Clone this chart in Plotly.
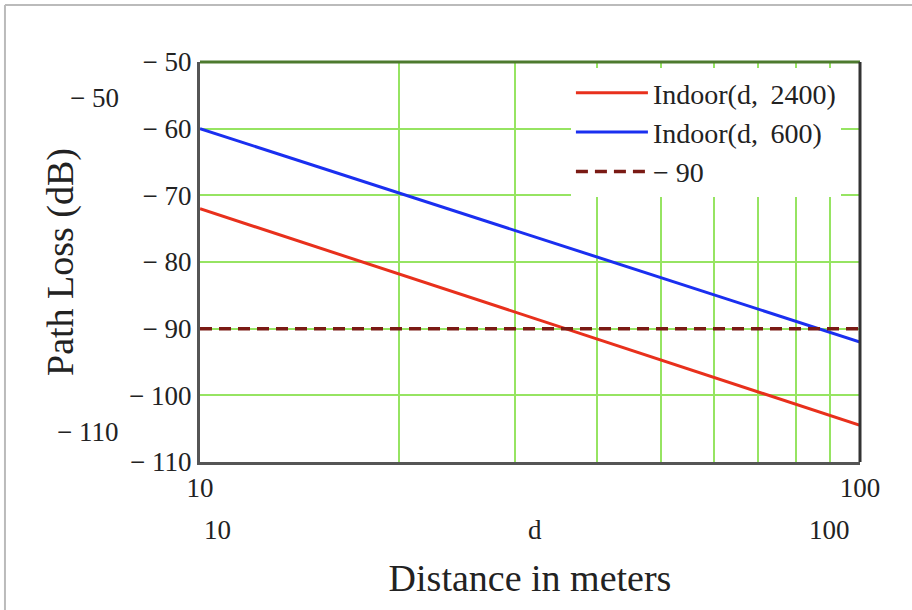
import plotly.graph_objects as go

d = [10, 20, 30, 40, 50, 60, 70, 80, 90, 100]
indoor_2400 = [-72.0, -81.8, -87.5, -91.6, -94.7, -97.3, -99.5, -101.4, -103.0, -104.5]
indoor_600 = [-60.0, -69.6, -75.3, -79.3, -82.4, -84.9, -87.0, -88.9, -90.5, -92.0]
threshold = [-90.0] * len(d)

y_ticks = [-50, -60, -70, -80, -90, -100, -110]
y_ticktext = ["\u2212 50", "\u2212 60", "\u2212 70", "\u2212 80", "\u2212 90", "\u2212 100", "\u2212 110"]
x_ticks = [10, 20, 30, 40, 50, 60, 70, 80, 90, 100]
x_ticktext = ["10", "", "", "", "", "", "", "", "", "100"]

serif = "Liberation Serif, Times New Roman, serif"
grid = "#96e462"
txt_col = "#222"

fig = go.Figure()
fig.add_trace(go.Scatter(x=d, y=indoor_2400, mode="lines", name="Indoor(d,\u2009 2400)",
                         line=dict(color="#e8301c", width=3)))
fig.add_trace(go.Scatter(x=d, y=indoor_600, mode="lines", name="Indoor(d,\u2009 600)",
                         line=dict(color="#1a2ff0", width=3)))
fig.add_trace(go.Scatter(x=d, y=threshold, mode="lines", name="\u2212 90",
                         line=dict(color="#7a1a14", width=3.5, dash="12px,7px")))

fig.update_layout(
    width=912, height=610,
    margin=dict(l=200, r=52, t=62, b=148),
    paper_bgcolor="white", plot_bgcolor="white",
    showlegend=True,
    legend=dict(x=0.562, y=0.985, xanchor="left", yanchor="top",
                bgcolor="white", borderwidth=0,
                font=dict(family=serif, size=28, color=txt_col),
                tracegroupgap=0, itemwidth=72),
    font=dict(family=serif, color=txt_col),
    xaxis=dict(type="log", range=[1, 2], tickvals=x_ticks, ticktext=x_ticktext,
               showgrid=True, gridcolor=grid, gridwidth=2,
               showline=True, linecolor="#555", linewidth=3,
               ticks="", tickfont=dict(family=serif, size=27, color=txt_col),
               zeroline=False, automargin=False,
               title=dict(text="Distance in meters", font=dict(family=serif, size=38, color=txt_col),
                          standoff=62)),
    yaxis=dict(range=[-110, -50], tickvals=y_ticks, ticktext=y_ticktext,
               showgrid=True, gridcolor=grid, gridwidth=2,
               showline=True, linecolor="#555", linewidth=3,
               ticks="", tickfont=dict(family=serif, size=27, color=txt_col),
               zeroline=False, automargin=False,
               title=dict(text="Path Loss (dB)", font=dict(family=serif, size=38, color=txt_col),
                          standoff=44)),
)

# plot frame: top (dark green) and right (dark)
fig.add_shape(type="line", xref="paper", yref="paper", x0=0, x1=1, y0=1, y1=1,
              line=dict(color="#4d7a2e", width=3))
fig.add_shape(type="line", xref="paper", yref="paper", x0=1, x1=1, y0=0, y1=1,
              line=dict(color="#333", width=3))
# outer image border
fig.add_shape(type="line", xref="paper", yref="paper", x0=-0.2955, x1=1.1, y0=1.1425, y1=1.1425,
              line=dict(color="#bbbbbb", width=2))
fig.add_shape(type="line", xref="paper", yref="paper", x0=-0.2955, x1=-0.2955, y0=1.1425, y1=-0.4,
              line=dict(color="#bbbbbb", width=2))

# Mathcad-style axis limit labels
ann = [
    ("\u2212 50", -0.1606, 0.91),
    ("\u2212 110", -0.1697, 0.075),
    ("10", 0.027, -0.17),
    ("d", 0.5076, -0.17),
    ("100", 0.9545, -0.17),
]
for txt, ax_, ay_ in ann:
    fig.add_annotation(text=txt, xref="paper", yref="paper", x=ax_, y=ay_,
                       xanchor="center", yanchor="middle",
                       showarrow=False, font=dict(family=serif, size=27, color=txt_col))

fig.write_html("out.html", config={"displayModeBar": False},
               post_script="document.body.style.margin='0';")
